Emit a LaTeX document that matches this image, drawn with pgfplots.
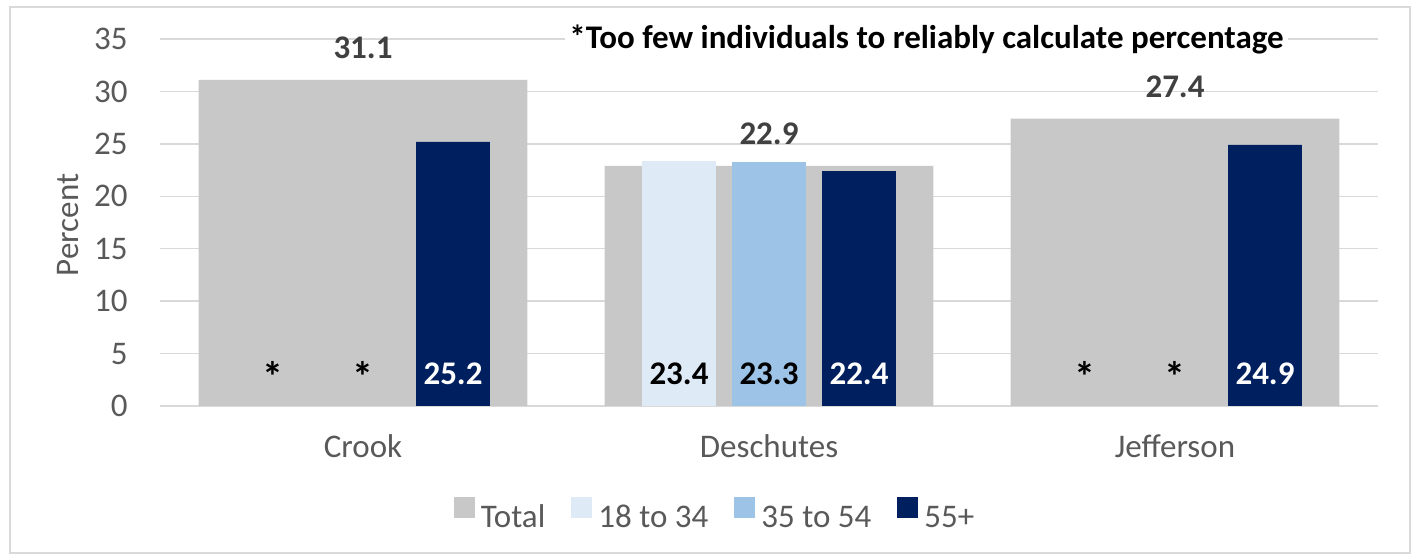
\documentclass[border=0pt]{standalone}
\usepackage{pgfplots}
\pgfplotsset{compat=1.18}
\usepackage{fontspec}
\setmainfont{Carlito}

\definecolor{cTotal}{RGB}{200,200,200}
\definecolor{cYoung}{RGB}{222,235,247}
\definecolor{cMid}{RGB}{157,195,230}
\definecolor{cOld}{RGB}{0,31,95}
\definecolor{cText}{RGB}{89,89,89}
\definecolor{cLabel}{RGB}{64,64,64}
\definecolor{cGrid}{RGB}{217,217,217}

\newcommand{\chartfont}{\fontsize{16.5}{19}\selectfont}

\pgfplotsset{
  bars/.style={ybar, draw=none, bar width=0.182,
    legend image code/.code={\fill[##1] (0pt,0pt) rectangle (10.5pt,10.5pt);}},
}

\begin{document}
\begin{tikzpicture}[font=\chartfont]
\useasboundingbox (-80pt,-77pt) rectangle (628.5pt,203pt);
\draw[cGrid, line width=0.8pt] (-75pt,-73.5pt) rectangle (625pt,199.5pt);
\begin{axis}[
  width=609pt, height=183.5pt, scale only axis,
  xmin=-0.5, xmax=2.5, ymin=0, ymax=35,
  ytick={0,5,...,35},
  xtick={0,1,2}, xticklabels={Crook,Deschutes,Jefferson},
  ymajorgrids, grid style={draw=cGrid, line width=0.65pt},
  axis line style={draw=none},
  major tick length=0pt,
  ticklabel style={text=cText, font=\chartfont},
  yticklabel style={anchor=east, inner sep=0pt, xshift=-16pt},
  xticklabel style={anchor=base, inner sep=0pt, yshift=-26pt},
  /pgf/number format/assume math mode=true,
  legend columns=-1,
  legend style={at={(0.4573,-0.3025)}, anchor=center, draw=none, fill=none,
    font=\chartfont, text=cText,
    nodes={inner sep=3pt},
    /tikz/every even column/.append style={column sep=10pt}},
]
% Total (wide background bars)
\addplot[bars, bar width=0.81, bar shift=0, fill=cTotal,
  nodes near coords,
  nodes near coords style={anchor=base, yshift=10.5pt, font=\chartfont\bfseries, text=cLabel}]
  coordinates {(0,31.1) (1,22.9) (2,27.4)};
\addlegendentry{Total}
\addplot[bars, bar shift=-0.2217, fill=cYoung] coordinates {(1,23.4)};
\addlegendentry{18 to 34}
\addplot[bars, bar shift=0, fill=cMid] coordinates {(1,23.3)};
\addlegendentry{35 to 54}
\addplot[bars, bar shift=0.2217, fill=cOld] coordinates {(0,25.2) (1,22.4) (2,24.9)};
\addlegendentry{55+}

% labels at the bar bases
\addplot[draw=none, forget plot, nodes near coords, point meta=explicit symbolic,
  nodes near coords style={anchor=base, yshift=10.5pt, font=\chartfont\bfseries, text=black}]
  coordinates {(0.7783,0)[23.4] (1,0)[23.3]};
\addplot[draw=none, forget plot, nodes near coords, point meta=explicit symbolic,
  nodes near coords style={anchor=base, yshift=7pt, font=\fontsize{21}{22}\selectfont\bfseries, text=black}]
  coordinates {(-0.2217,0)[*] (0,0)[*] (1.7783,0)[*] (2,0)[*]};
\addplot[draw=none, forget plot, nodes near coords, point meta=explicit symbolic,
  nodes near coords style={anchor=base, yshift=10.5pt, font=\chartfont\bfseries, text=white}]
  coordinates {(0.2217,0)[25.2] (1.2217,0)[22.4] (2.2217,0)[24.9]};
\end{axis}
\node[anchor=base, fill=white, inner sep=2pt, font=\chartfont\bfseries, text=black]
  at (383.25pt,178.5pt) {*Too few individuals to reliably calculate percentage};
\node[rotate=90, text=cText] at (-46pt,90.5pt) {Percent};
\end{tikzpicture}
\end{document}
